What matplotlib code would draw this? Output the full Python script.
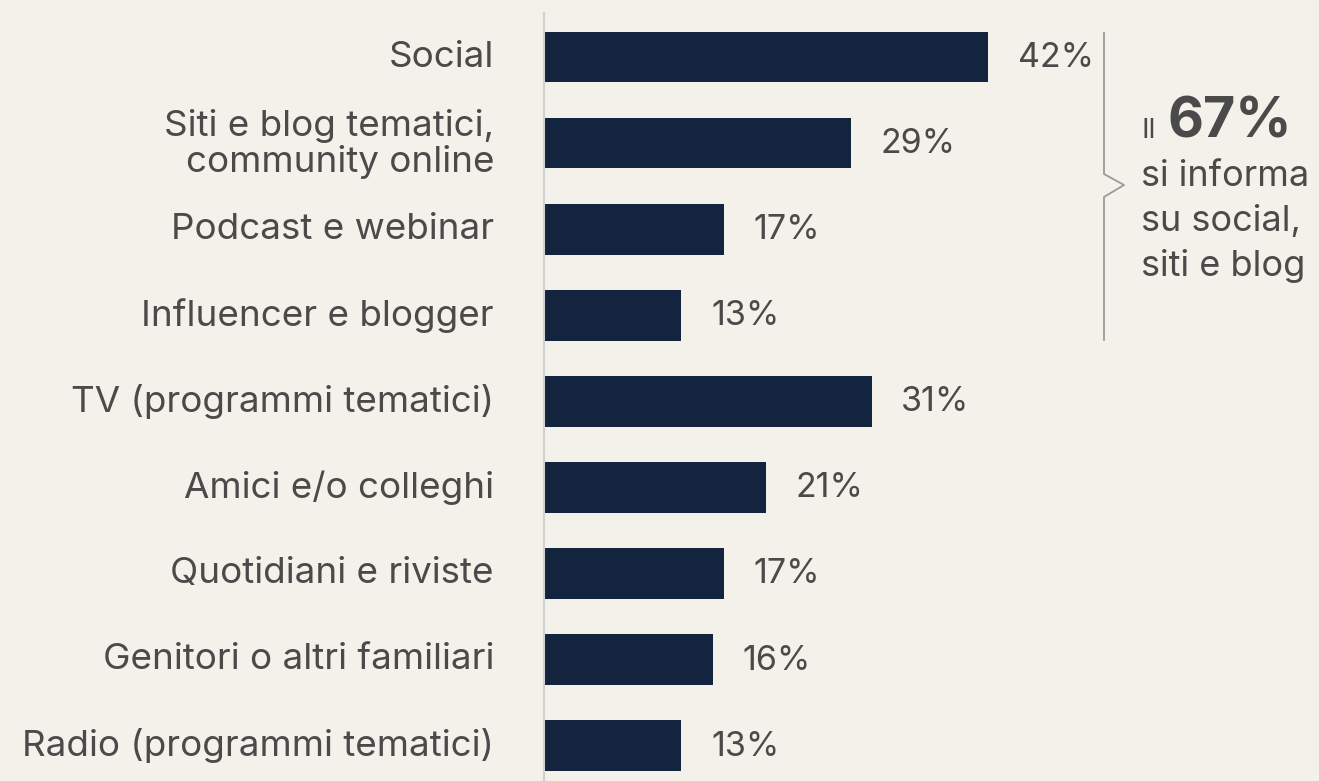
import matplotlib.pyplot as plt

# Data
categories = ['Social', 'Siti e blog tematici,\ncommunity online', 'Podcast e webinar',
              'Influencer e blogger', 'TV (programmi tematici)', 'Amici e/o colleghi',
              'Quotidiani e riviste', 'Genitori o altri familiari', 'Radio (programmi tematici)']
values = [42, 29, 17, 13, 31, 21, 17, 16, 13]
value_labels = ['42%', '29%', '17%', '13%', '31%', '21%', '17%', '16%', '13%']

bg = '#f4f1eb'
bar_color = '#13243f'
text_color = '#4a4a4a'
font = 'Inter'

fig = plt.figure(figsize=(13.19, 7.81), dpi=100, facecolor=bg)
ax = fig.add_axes([544 / 1319, 0, 1 - 544 / 1319, 1])
ax.set_facecolor(bg)

y = list(range(len(categories)))
ax.barh(y, values, height=0.59, color=bar_color)

# px scale: 10.57 px per percent, 86.1 px per row
ax.set_xlim(0, (1319 - 544) / 10.57)
ax.set_ylim((781 - 57) / 86.1, -57 / 86.1)

for i, (v, lab) in enumerate(zip(values, value_labels)):
    ax.text(v + 2.8, i + 0.01, lab, va='center', ha='left', fontsize=24.5,
            color=text_color, family=font)

ax.set_yticks([i - 0.04 for i in y])
ax.set_yticklabels(categories, fontsize=26.5, color=text_color, family=font,
                   linespacing=1.08)
ax.tick_params(axis='y', length=0, pad=36)
ax.set_xticks([])
for s in ['top', 'right', 'bottom']:
    ax.spines[s].set_visible(False)
ax.spines['left'].set_color('#d0d0d0')
ax.spines['left'].set_linewidth(1.5)
ax.spines['left'].set_bounds(ax.get_ylim()[0], -44 / 86.1)

# Bracket with chevron
def fx(px):
    return px / 1319
def fy(py):
    return 1 - py / 781

bx = 1104
fig.add_artist(plt.Line2D([fx(bx), fx(bx), fx(1124), fx(bx), fx(bx)],
                          [fy(33), fy(174), fy(185), fy(197), fy(340)],
                          color='#9a9a9a', lw=1.3))

fig.text(fx(1142), fy(138), 'Il', fontsize=20, color=text_color, family=font,
         va='baseline', ha='left')
fig.text(fx(1168), fy(138), '67%', fontsize=40, color=text_color, family=font,
         fontweight='bold', va='baseline', ha='left')
for j, line in enumerate(['si informa', 'su social,', 'siti e blog']):
    fig.text(fx(1141), fy(186 + 45 * j), line, fontsize=26, color=text_color,
             family=font, va='baseline', ha='left')

fig.savefig('out.png', dpi=100, facecolor=bg)
